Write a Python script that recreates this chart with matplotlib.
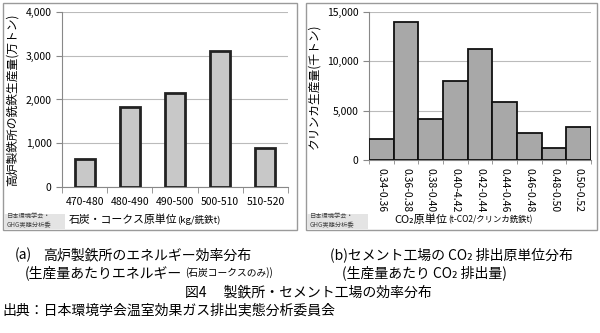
import matplotlib.pyplot as plt
from matplotlib.patches import Rectangle
from matplotlib.ticker import FuncFormatter, FixedLocator

plt.rcParams['font.family'] = ['Noto Sans CJK JP', 'DejaVu Sans']

# data
steel_bins = ['470-480', '480-490', '490-500', '500-510', '510-520']
steel_output = [650, 1830, 2150, 3110, 890]          # 万トン

cement_bins = ['0.34-0.36', '0.36-0.38', '0.38-0.40', '0.40-4.42', '0.42-0.44',
               '0.44-0.46', '0.46-0.48', '0.48-0.50', '0.50-0.52']
cement_output = [2150, 13950, 4150, 8000, 11250, 5850, 2750, 1200, 3300]  # 千トン

W, H = 600, 333
fig = plt.figure(figsize=(6, 3.33), dpi=100)


def box(x0, y0, x1, y1):
    # pixel box (top-left origin) -> figure fraction rect
    return [x0 / W, 1 - y1 / H, (x1 - x0) / W, (y1 - y0) / H]


def ftext(x, y, s, **kw):
    fig.text(x / W, 1 - y / H, s, **kw)


comma = FuncFormatter(lambda v, p: '{:,.0f}'.format(v))

# panel frames
for x0, x1 in [(3, 297), (306, 597)]:
    r = box(x0, 3, x1, 230)
    fig.add_artist(Rectangle((r[0], r[1]), r[2], r[3], transform=fig.transFigure,
                             fill=False, edgecolor='#9a9a9a', lw=1))
    # small credit stamp
    s = box(x0 + 1, 214, x0 + 62, 229)
    fig.add_artist(Rectangle((s[0], s[1]), s[2], s[3], transform=fig.transFigure,
                             facecolor='#e4e4e4', edgecolor='none'))
    ftext(x0 + 4, 221, '日本環境学会・\nGHG実態分析委', fontsize=4.5, va='center',
          color='#444444', linespacing=1.1)

# (a) steel works
ax1 = fig.add_axes(box(62, 12, 288, 187))
ax1.bar(range(len(steel_bins)), steel_output, width=0.44, color='#c8c8c8',
        edgecolor='#222222', linewidth=2, zorder=3)
ax1.set_xlim(-0.5, len(steel_bins) - 0.5)
ax1.set_ylim(0, 4000)
ax1.set_yticks([0, 1000, 2000, 3000, 4000])
ax1.yaxis.set_major_formatter(comma)
ax1.set_xticks(range(len(steel_bins)))
ax1.set_xticklabels(steel_bins)
ax1.xaxis.set_minor_locator(FixedLocator([i + 0.5 for i in range(-1, len(steel_bins))]))
ax1.tick_params(axis='x', which='major', length=0, labelsize=7.5, pad=7)
ax1.tick_params(axis='x', which='minor', length=4, color='#888888')
ax1.tick_params(axis='y', length=4, color='#888888', labelsize=7.5)
ax1.grid(axis='y', color='#bbbbbb', lw=0.8, zorder=0)
for sp in ['top', 'right']:
    ax1.spines[sp].set_visible(False)
for sp in ['left', 'bottom']:
    ax1.spines[sp].set_color('#888888')
ax1.set_ylabel('高炉製鉄所の銑鉄生産量(万トン)', fontsize=8.5, labelpad=5)
ftext(177, 220, '石炭・コークス原単位', fontsize=7.8, ha='right', va='center')
ftext(177, 220, '(kg/銑鉄t)', fontsize=6.8, ha='left', va='center')

# (b) cement plants
ax2 = fig.add_axes(box(369, 12, 591, 160))
ax2.bar(range(len(cement_bins)), cement_output, width=1.0, color='#a8a8a8',
        edgecolor='#111111', linewidth=1.3, zorder=3)
ax2.set_xlim(-0.5, len(cement_bins) - 0.5)
ax2.set_ylim(0, 15000)
ax2.set_yticks([0, 5000, 10000, 15000])
ax2.yaxis.set_major_formatter(comma)
ax2.set_xticks(range(len(cement_bins)))
ax2.set_xticklabels(cement_bins, rotation=-90)
ax2.xaxis.set_minor_locator(FixedLocator([i + 0.5 for i in range(-1, len(cement_bins))]))
ax2.tick_params(axis='x', which='major', length=0, labelsize=7.5, pad=6)
ax2.tick_params(axis='x', which='minor', length=3, color='#888888')
ax2.tick_params(axis='y', length=4, color='#888888', labelsize=7.5)
ax2.grid(axis='y', color='#bbbbbb', lw=0.8, zorder=0)
for sp in ['top', 'right']:
    ax2.spines[sp].set_visible(False)
for sp in ['left', 'bottom']:
    ax2.spines[sp].set_color('#888888')
ax2.set_ylabel('クリンカ生産量(千トン)', fontsize=8.5, labelpad=5)
ftext(447, 220, 'CO₂原単位', fontsize=8, ha='right', va='center')
ftext(448, 220, '(t-CO2/クリンカ銑鉄t)', fontsize=6, ha='left', va='center')

# captions
ftext(15, 255, '(a)', fontsize=10, va='center')
ftext(43, 255, '高炉製鉄所のエネルギー効率分布', fontsize=10, va='center')
ftext(25, 273, '(生産量あたりエネルギー', fontsize=10, va='center')
ftext(185, 273, '(石炭コークスのみ))', fontsize=7, va='center')
ftext(330, 255, '(b)セメント工場の CO₂ 排出原単位分布', fontsize=10, va='center')
ftext(342, 273, '(生産量あたり CO₂ 排出量)', fontsize=10, va='center')
ftext(185, 292, '図4　 製鉄所・セメント工場の効率分布', fontsize=10, va='center')
ftext(2, 310, '出典：日本環境学会温室効果ガス排出実態分析委員会', fontsize=10, va='center')

fig.savefig('out.png', dpi=100)
